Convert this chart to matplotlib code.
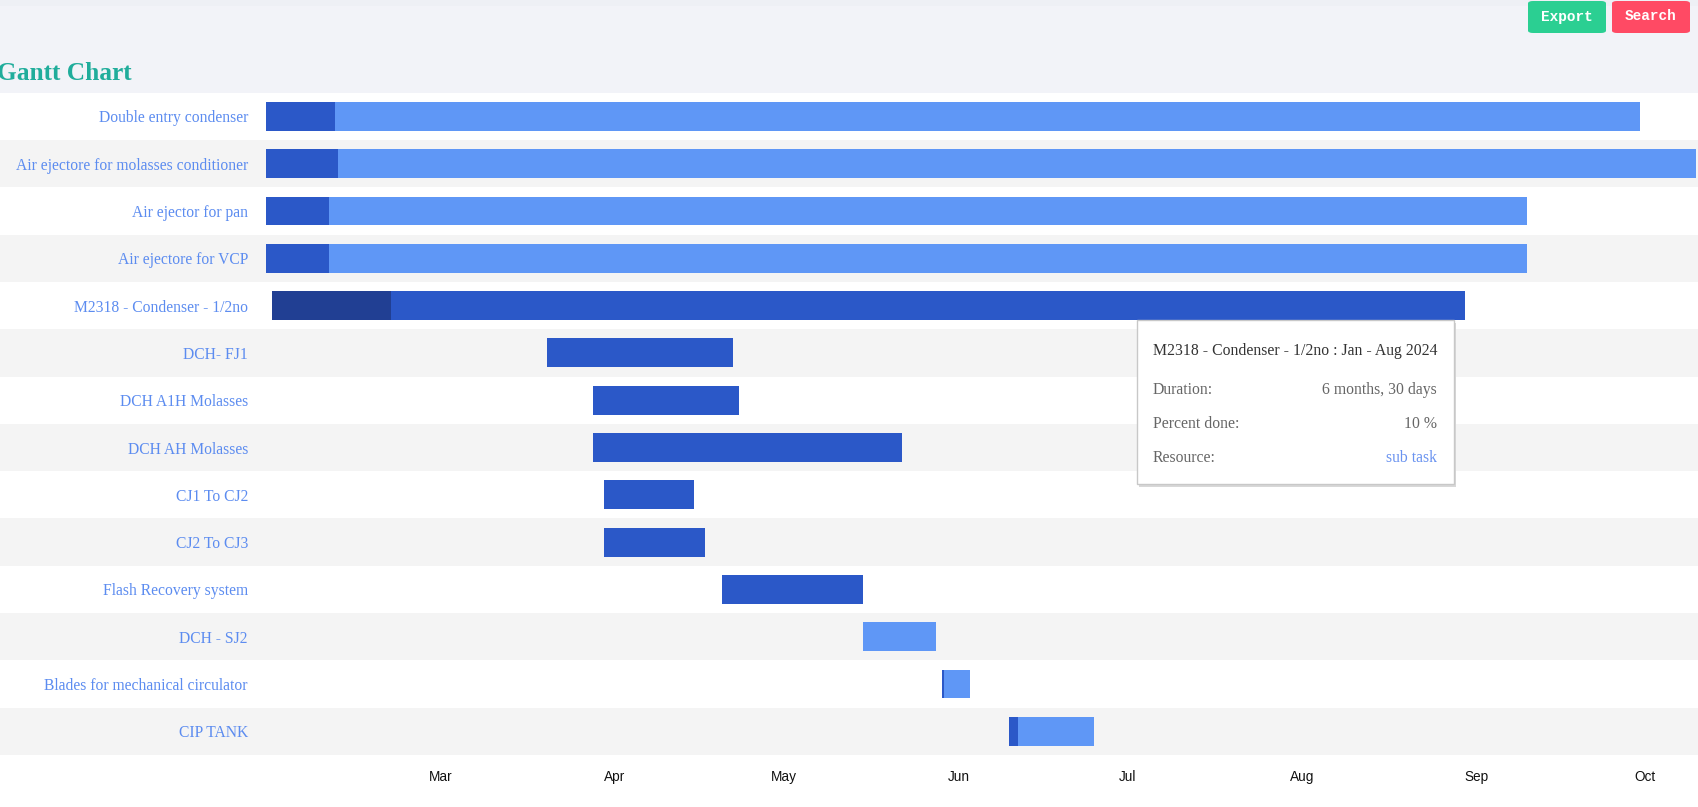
import matplotlib
matplotlib.use("Agg")
import matplotlib.pyplot as plt
import matplotlib.dates as mdates
from matplotlib.patches import FancyBboxPatch, Rectangle
import datetime as dt

# ---------------- data ----------------
tasks = [
    "Double entry condenser",
    "Air ejectore for molasses conditioner",
    "Air ejector for pan",
    "Air ejectore for VCP",
    "M2318 - Condenser - 1/2no",
    "DCH- FJ1",
    "DCH A1H Molasses",
    "DCH AH Molasses",
    "CJ1 To CJ2",
    "CJ2 To CJ3",
    "Flash Recovery system",
    "DCH - SJ2",
    "Blades for mechanical circulator",
    "CIP TANK",
]
starts = ["2024-01-30", "2024-01-30", "2024-01-30", "2024-01-30", "2024-01-31",
          "2024-03-20", "2024-03-28", "2024-03-28", "2024-03-30", "2024-03-30",
          "2024-04-20", "2024-05-15", "2024-05-29", "2024-06-10"]
ends = ["2024-09-30", "2024-10-10", "2024-09-10", "2024-09-10", "2024-08-30",
        "2024-04-22", "2024-04-23", "2024-05-22", "2024-04-15", "2024-04-17",
        "2024-05-15", "2024-05-28", "2024-06-03", "2024-06-25"]
percent_done = [5, 5, 5, 5, 10, 100, 100, 100, 100, 100, 100, 0, 7, 10]
month_labels = ["Mar", "Apr", "May", "Jun", "Jul", "Aug", "Sep", "Oct"]

# ---------------- style ----------------
W, H = 1698, 807
LIGHT = "#5f97f6"
MID = "#2b58c8"
DARK = "#213f93"
LABEL_C = "#5c8cf0"
BAND = "#f4f4f4"

def fx(x):
    return x / W

def fy(y):
    return 1 - y / H

fig = plt.figure(figsize=(W / 100, H / 100), dpi=100)
fig.patch.set_facecolor("white")

# top header background
fig.add_artist(Rectangle((0, fy(93)), 1, 1 - fy(93), transform=fig.transFigure,
                         facecolor="#f2f3f8", edgecolor="none", zorder=0))
fig.add_artist(Rectangle((0, fy(6)), 1, 1 - fy(6), transform=fig.transFigure,
                         facecolor="#eef0f5", edgecolor="none", zorder=0))

ax_left, ax_right, ax_top, ax_bot = 266, 1696, 92.7, 755
ax = fig.add_axes([fx(ax_left), fy(ax_bot), fx(ax_right) - fx(ax_left), fy(ax_top) - fy(ax_bot)])
ax.set_facecolor("none")

n = len(tasks)
sd = [mdates.date2num(dt.datetime.strptime(s, "%Y-%m-%d")) for s in starts]
ed = [mdates.date2num(dt.datetime.strptime(e, "%Y-%m-%d")) for e in ends]

ax.set_xlim(sd[0], ed[1])
ax.set_ylim(n - 0.5, -0.5)

# row bands across the full width
xmin_ext = -ax_left / (ax_right - ax_left)
xmax_ext = (W - ax_left) / (ax_right - ax_left)
for i in range(n):
    col = "white" if i % 2 == 0 else BAND
    ax.axhspan(i - 0.5, i + 0.5, xmin=xmin_ext, xmax=xmax_ext, facecolor=col,
               edgecolor="none", zorder=0, clip_on=False)

bh = 0.61
for i in range(n):
    dur = ed[i] - sd[i]
    base = MID if i == 4 else LIGHT
    done_c = DARK if i == 4 else MID
    ax.barh(i, dur, left=sd[i], height=bh, color=base, edgecolor="none", zorder=2)
    if percent_done[i] > 0:
        ax.barh(i, dur * percent_done[i] / 100.0, left=sd[i], height=bh,
                color=done_c, edgecolor="none", zorder=3)

ax.set_yticks(range(n))
ax.set_yticklabels(tasks, fontfamily="Liberation Serif", fontsize=11.25, color=LABEL_C)
ax.tick_params(axis="y", length=0, pad=13)

ax.xaxis.set_major_locator(mdates.MonthLocator(bymonth=range(3, 11)))
ax.xaxis.set_major_formatter(mdates.DateFormatter("%b"))
ax.tick_params(axis="x", length=0, pad=10.5, labelsize=9.8, labelcolor="#111111")
for lab in ax.get_xticklabels():
    lab.set_fontfamily("Liberation Sans")

for s in ax.spines.values():
    s.set_visible(False)

# title
fig.text(fx(-3), fy(73), "Gantt Chart", fontfamily="Liberation Serif", fontweight="bold",
         fontsize=18.3, color="#20ad9b", ha="left", va="center")

# buttons
def button(x0, x1, y0, y1, color, text):
    fig.add_artist(FancyBboxPatch((fx(x0), fy(y1)), fx(x1) - fx(x0), fy(y0) - fy(y1),
                                  boxstyle="round,pad=0,rounding_size=0.003",
                                  transform=fig.transFigure, facecolor=color,
                                  edgecolor="none", zorder=5))
    fig.text(fx((x0 + x1) / 2), fy((y0 + y1) / 2 - 0.5), text, color="white",
             fontfamily="Liberation Mono", fontweight="bold", fontsize=10.4,
             ha="center", va="center", zorder=6)

button(1528, 1606, 1, 33, "#2bcf92", "Export")
button(1612, 1690, 1, 33, "#ff4a64", "Search")

# tooltip
tx0, tx1, ty0, ty1 = 1137, 1454, 320, 484
fig.add_artist(Rectangle((fx(tx0 + 2), fy(ty1 + 3)), fx(tx1) - fx(tx0), fy(ty0) - fy(ty1),
                         transform=fig.transFigure, facecolor="#d8d8d8",
                         edgecolor="none", zorder=7))
fig.add_artist(Rectangle((fx(tx0), fy(ty1)), fx(tx1) - fx(tx0), fy(ty0) - fy(ty1),
                         transform=fig.transFigure, facecolor="white",
                         edgecolor="#c8c8c8", linewidth=1, zorder=8))
tf = dict(fontfamily="Liberation Serif", fontsize=11.3, zorder=9)
fig.text(fx(1153), fy(351), "M2318 - Condenser - 1/2no : Jan - Aug 2024", color="#333333",
         ha="left", va="center", **tf)
rows = [("Duration:", "6 months, 30 days", "#666666", 390),
        ("Percent done:", "10 %", "#666666", 424),
        ("Resource:", "sub task", "#6a93f0", 458)]
for lab, val, vc, yy in rows:
    fig.text(fx(1153), fy(yy), lab, color="#666666", ha="left", va="center", **tf)
    fig.text(fx(1437), fy(yy), val, color=vc, ha="right", va="center", **tf)

fig.savefig("out.png", dpi=100, facecolor=fig.get_facecolor())
